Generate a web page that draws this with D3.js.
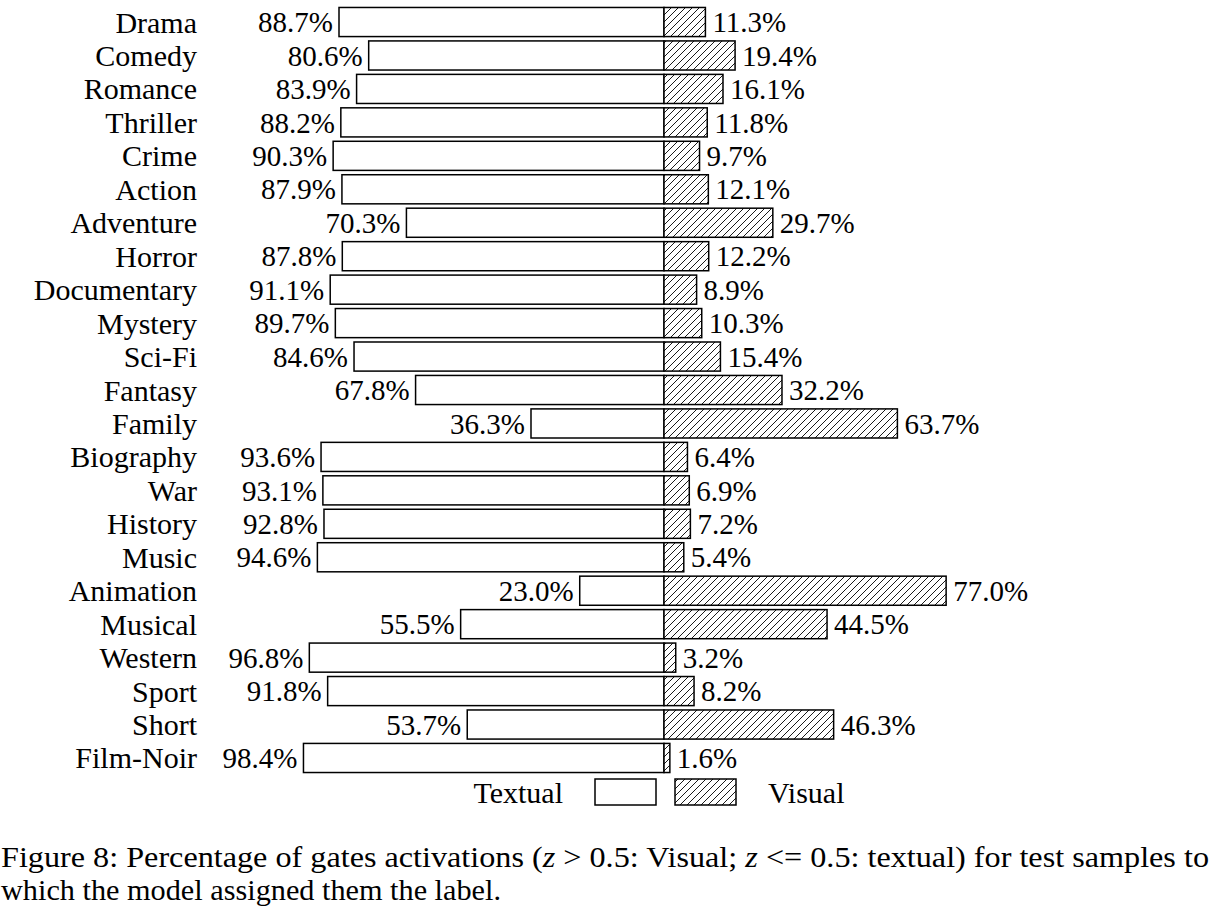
<!DOCTYPE html>
<html lang="en">
<head>
  <meta charset="UTF-8">
  <title>Gate activations by genre</title>
  <script src="https://d3js.org/d3.v7.min.js"></script>
  <style>
    body { margin: 0; background: #fff; }
    svg { display: block; }
    svg text { font-family: "Liberation Serif", "Tinos", "Times New Roman", "DejaVu Serif", serif; fill: #000; }
  </style>
</head>
<body>
  <svg id="chart" width="1216" height="910"></svg>

  <script>
    // Data
    const genres = ["Drama", "Comedy", "Romance", "Thriller", "Crime", "Action", "Adventure", "Horror",
      "Documentary", "Mystery", "Sci-Fi", "Fantasy", "Family", "Biography", "War", "History", "Music",
      "Animation", "Musical", "Western", "Sport", "Short", "Film-Noir"];
    const textual = [88.7, 80.6, 83.9, 88.2, 90.3, 87.9, 70.3, 87.8, 91.1, 89.7, 84.6, 67.8, 36.3,
      93.6, 93.1, 92.8, 94.6, 23.0, 55.5, 96.8, 91.8, 53.7, 98.4];
    const visual = [11.3, 19.4, 16.1, 11.8, 9.7, 12.1, 29.7, 12.2, 8.9, 10.3, 15.4, 32.2, 63.7,
      6.4, 6.9, 7.2, 5.4, 77.0, 44.5, 3.2, 8.2, 46.3, 1.6];
    const legendLabels = ["Textual", "Visual"];

    const rows = genres.map((g, i) => ({ genre: g, textual: textual[i], visual: visual[i] }));

    const svg = d3.select("#chart");
    const labelSize = 30, valueSize = 29;

    // hatch pattern for the visual bars
    const defs = svg.append("defs");
    const pat = defs.append("pattern")
      .attr("id", "hatch")
      .attr("patternUnits", "userSpaceOnUse")
      .attr("width", 7)
      .attr("height", 7);
    pat.append("rect").attr("width", 7).attr("height", 7).attr("fill", "#fff");
    pat.append("path")
      .attr("d", "M-1,1 l2,-2 M0,7 l7,-7 M6,8 l2,-2")
      .attr("stroke", "#000")
      .attr("stroke-width", 0.9);

    const x = d3.scaleLinear().domain([-100, 100]).range([297.6, 1030.4]);
    const y = d3.scaleBand().domain(genres).range([5.3, 774.7]).paddingInner(0.13).paddingOuter(0.065);

    const g = svg.append("g");

    // genre labels
    g.selectAll(".genre")
      .data(rows)
      .enter().append("text")
      .attr("class", "genre")
      .attr("x", 197)
      .attr("y", d => y(d.genre) + y.bandwidth() / 2)
      .attr("dy", "0.35em")
      .attr("text-anchor", "end")
      .style("font-size", labelSize + "px")
      .text(d => d.genre);

    // textual bars (to the left)
    g.selectAll(".tbar")
      .data(rows)
      .enter().append("rect")
      .attr("class", "tbar")
      .attr("x", d => x(-d.textual))
      .attr("y", d => y(d.genre))
      .attr("width", d => x(0) - x(-d.textual))
      .attr("height", y.bandwidth())
      .attr("fill", "#fff")
      .attr("stroke", "#000")
      .attr("stroke-width", 1.5);

    // visual bars (to the right)
    g.selectAll(".vbar")
      .data(rows)
      .enter().append("rect")
      .attr("class", "vbar")
      .attr("x", x(0))
      .attr("y", d => y(d.genre))
      .attr("width", d => x(d.visual) - x(0))
      .attr("height", y.bandwidth())
      .attr("fill", "url(#hatch)")
      .attr("stroke", "#000")
      .attr("stroke-width", 1.5);

    // value labels
    g.selectAll(".tval")
      .data(rows)
      .enter().append("text")
      .attr("class", "tval")
      .attr("x", d => x(-d.textual) - 6)
      .attr("y", d => y(d.genre) + y.bandwidth() / 2)
      .attr("dy", "0.35em")
      .attr("text-anchor", "end")
      .style("font-size", valueSize + "px")
      .text(d => d.textual.toFixed(1) + "%");

    g.selectAll(".vval")
      .data(rows)
      .enter().append("text")
      .attr("class", "vval")
      .attr("x", d => x(d.visual) + 7)
      .attr("y", d => y(d.genre) + y.bandwidth() / 2)
      .attr("dy", "0.35em")
      .attr("text-anchor", "start")
      .style("font-size", valueSize + "px")
      .text(d => d.visual.toFixed(1) + "%");

    // legend
    const legend = svg.append("g").attr("transform", "translate(0,792)");
    legend.append("text")
      .attr("x", 563).attr("dy", "0.35em")
      .attr("text-anchor", "end")
      .style("font-size", labelSize + "px")
      .text(legendLabels[0]);
    legend.append("rect")
      .attr("x", 595).attr("y", -13).attr("width", 61).attr("height", 26)
      .attr("fill", "#fff").attr("stroke", "#000").attr("stroke-width", 1.5);
    legend.append("rect")
      .attr("x", 675).attr("y", -13).attr("width", 61).attr("height", 26)
      .attr("fill", "url(#hatch)").attr("stroke", "#000").attr("stroke-width", 1.5);
    legend.append("text")
      .attr("x", 768).attr("dy", "0.35em")
      .style("font-size", labelSize + "px")
      .text(legendLabels[1]);

    // caption
    const cap1 = svg.append("text")
      .attr("x", 1).attr("y", 867)
      .attr("textLength", 1208)
      .attr("lengthAdjust", "spacingAndGlyphs")
      .style("font-size", "29px");
    cap1.append("tspan").text("Figure 8: Percentage of gates activations (");
    cap1.append("tspan").style("font-style", "italic").text("z");
    cap1.append("tspan").text(" > 0.5: Visual; ");
    cap1.append("tspan").style("font-style", "italic").text("z");
    cap1.append("tspan").text(" <= 0.5: textual) for test samples to");

    svg.append("text")
      .attr("x", 1).attr("y", 900)
      .attr("textLength", 500)
      .attr("lengthAdjust", "spacingAndGlyphs")
      .style("font-size", "29px")
      .text("which the model assigned them the label.");
  </script>
</body>
</html>
